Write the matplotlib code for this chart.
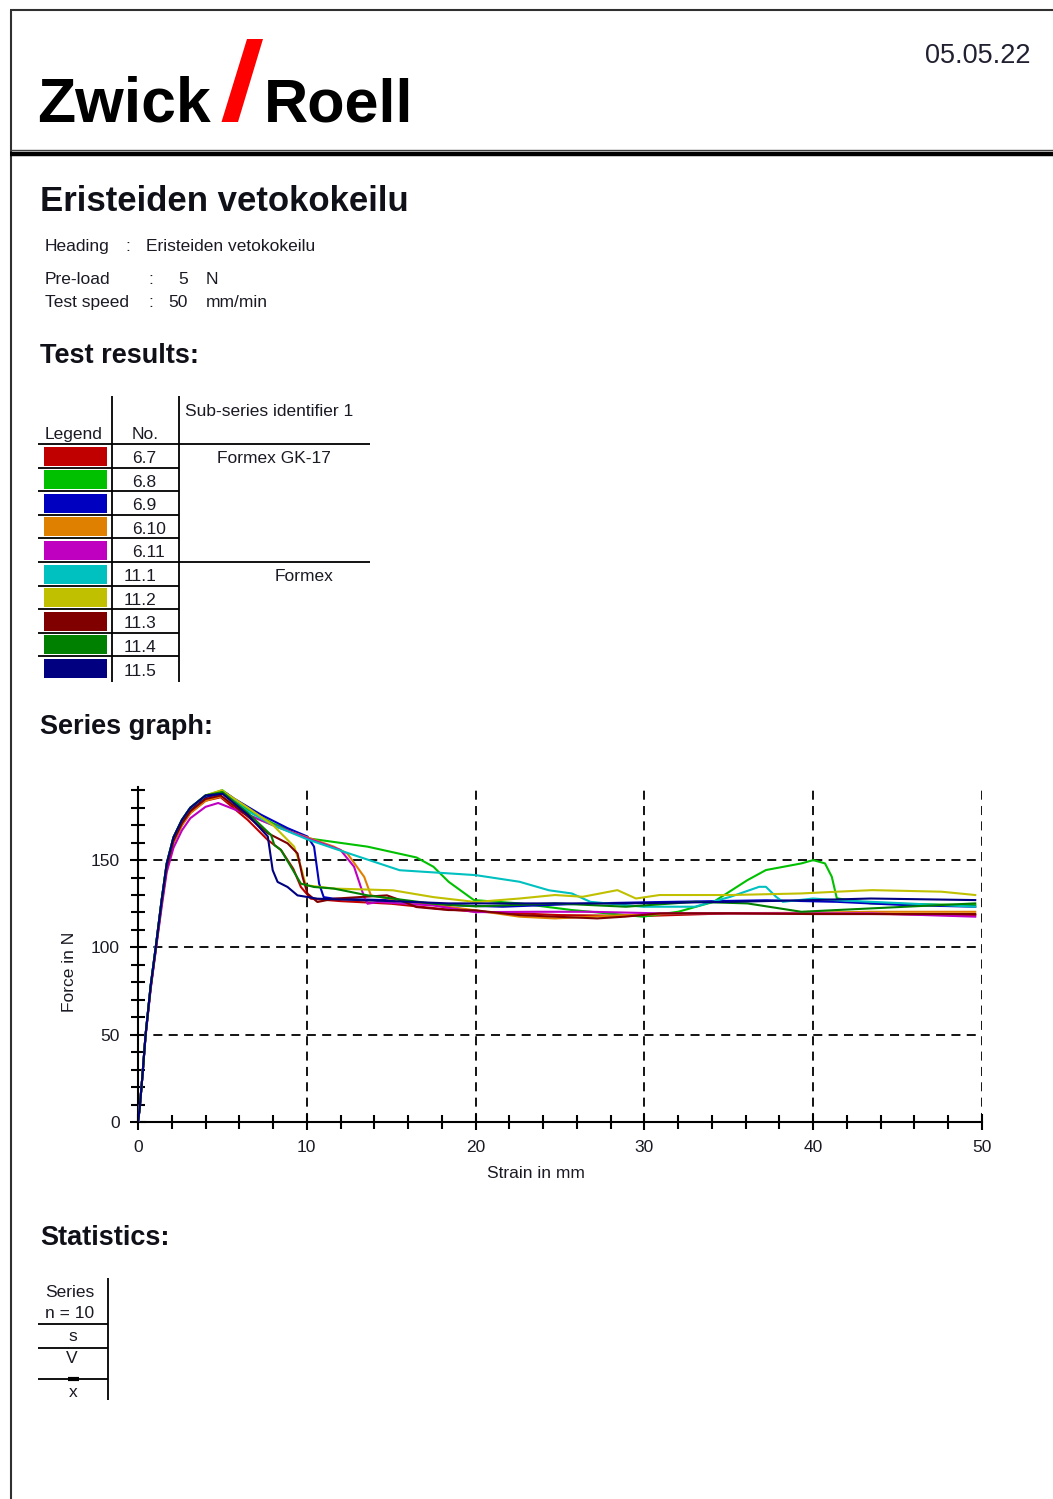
import matplotlib
matplotlib.use("Agg")
import matplotlib.pyplot as plt
from matplotlib.lines import Line2D
from matplotlib.patches import Rectangle, Polygon
from matplotlib.ticker import MultipleLocator

plt.rcParams['font.family'] = ['Liberation Sans', 'DejaVu Sans']

W, H = 1053, 1499
TXT = '#1a1a24'
FS = 12.5

# ---------------- data ----------------
specimen_ids = ["6.7", "6.8", "6.9", "6.10", "6.11", "11.1", "11.2", "11.3", "11.4", "11.5"]
series_colors = ["#C00000", "#00C000", "#0000C0", "#E08000", "#C000C0",
                 "#00C0C0", "#C0C000", "#800000", "#008000", "#000080"]
group_labels = ["Formex GK-17", "Formex"]

x_6_7 = [0, 0.1, 0.25, 0.45, 0.75, 1.05, 1.4, 1.7, 2.1, 2.6, 3.1, 4.0, 4.9, 6.5, 7.69, 8.47, 9.2, 9.65, 10.24, 12, 15, 18, 20, 25, 30, 35, 40, 45, 49.6]
y_6_7 = [0, 8, 25, 50, 77, 99, 125, 145, 160, 170, 177, 184, 186, 173, 161.5, 155.8, 145, 134.6, 127.9, 126.5, 125, 122, 120.5, 118.5, 118, 119.5, 119.5, 119, 118.5]

x_6_8 = [0, 0.1, 0.25, 0.45, 0.75, 1.05, 1.4, 1.7, 2.1, 2.6, 3.1, 4.0, 5.0, 6.5, 8, 10.04, 13.6, 16.5, 17.5, 18.4, 19.9, 22.6, 25.7, 29.9, 32, 34.1, 36.1, 37.2, 39.3, 40, 40.7, 41.1, 41.4, 43.4, 49.6]
y_6_8 = [0, 8, 25, 50, 78, 100, 127, 148, 163, 173, 180, 187, 190, 179, 171, 162.5, 157.7, 151.5, 146.2, 137.6, 127.1, 125.2, 121.4, 117.6, 120.4, 126.1, 138.5, 144.3, 148.1, 150, 148.1, 140.5, 128.1, 125.2, 124.2]

x_6_9 = [0, 0.1, 0.25, 0.45, 0.75, 1.05, 1.4, 1.7, 2.1, 2.6, 3.1, 4.0, 5.2, 5.73, 7.29, 8.86, 10.04, 10.43, 10.73, 11.0, 11.6, 15, 18.4, 21.6, 26.8, 31, 37.2, 41.4, 45.5, 49.6]
y_6_9 = [0, 8, 25, 50, 78, 100, 127, 147, 162, 172, 179, 186, 188.5, 185, 176, 168.3, 163.5, 157.7, 136.5, 128.8, 127.9, 127, 124.2, 123.3, 125.2, 126, 127, 126.1, 124.2, 123.3]

x_6_10 = [0, 0.1, 0.25, 0.45, 0.75, 1.05, 1.4, 1.7, 2.1, 2.6, 3.1, 4.0, 4.9, 6.5, 8.5, 10.04, 11.6, 12.4, 13.4, 13.8, 15.5, 20, 22.6, 24.7, 28.9, 33, 39.3, 43.4, 49.6]
y_6_10 = [0, 8, 25, 50, 77, 99, 125, 145, 160, 170, 177, 184, 186.5, 176, 168, 163, 157.7, 153.8, 140.4, 129.8, 126.9, 121.2, 117.6, 116.6, 118.5, 119.5, 119.8, 120.4, 120.4]

x_6_11 = [0, 0.1, 0.25, 0.45, 0.75, 1.05, 1.4, 1.7, 2.1, 2.6, 3.1, 4.0, 4.75, 6.0, 7.69, 10.04, 12, 12.8, 13.4, 13.6, 14.2, 17.5, 20, 23.6, 26.8, 30.9, 39.3, 43.4, 49.6]
y_6_11 = [0, 8, 25, 49, 76, 98, 123, 143, 157, 167, 174, 180.5, 182.7, 178, 171.2, 162.5, 155.8, 146.2, 128.8, 125, 126, 124, 120.2, 120.4, 120.4, 119.5, 119.5, 119.5, 117.6]

x_11_1 = [0, 0.1, 0.25, 0.45, 0.75, 1.05, 1.4, 1.7, 2.1, 2.6, 3.1, 4.0, 5.0, 6.5, 8, 10, 11.6, 15.5, 18.4, 20, 22.6, 24.35, 25.7, 26.8, 29.9, 33, 35.1, 36.8, 37.2, 37.8, 38.2, 40, 41.4, 45.5, 49.6]
y_11_1 = [0, 8, 25, 50, 78, 100, 127, 148, 163, 173, 180, 187, 189, 178, 170, 162, 156.7, 144.2, 142.4, 141.4, 137.6, 132.7, 130.9, 126.1, 123.3, 123.3, 129, 134.7, 134.7, 129, 126.1, 128, 127, 125.2, 123.3]

x_11_2 = [0, 0.1, 0.25, 0.45, 0.75, 1.05, 1.4, 1.7, 2.1, 2.6, 3.1, 4.0, 4.95, 6.5, 8, 9.25, 9.65, 9.94, 11.6, 15.1, 17.5, 20, 22.6, 24.7, 26.35, 28.4, 29.5, 30.9, 35.1, 39.3, 41.4, 43.5, 47.6, 49.6]
y_11_2 = [0, 8, 25, 50, 78, 100, 127, 148, 163, 173, 180, 187, 190, 180, 170, 157.7, 146.2, 135.6, 133.7, 132.7, 128.8, 126, 128, 130, 129, 132.8, 128, 130, 130, 130.9, 131.9, 132.8, 131.9, 130]

x_11_3 = [0, 0.1, 0.25, 0.45, 0.75, 1.05, 1.4, 1.7, 2.1, 2.6, 3.1, 4.0, 4.9, 6.5, 7.69, 8.86, 9.45, 9.75, 10.04, 10.63, 11.6, 14.75, 15.3, 16.5, 18.4, 20, 22.6, 24.7, 27.2, 28.85, 30.9, 35.1, 40, 43.4, 49.6]
y_11_3 = [0, 8, 25, 50, 77, 99, 126, 146, 161, 171, 178, 185, 187, 175, 165.4, 159.6, 153.8, 140.4, 130.8, 126, 127.9, 129.8, 127.9, 123.1, 121.4, 121.2, 118.5, 117.6, 116.6, 117.6, 119.5, 119.5, 119.1, 119.1, 119.1]

x_11_4 = [0, 0.1, 0.25, 0.45, 0.75, 1.05, 1.4, 1.7, 2.1, 2.6, 3.1, 4.0, 5.0, 6.5, 7.88, 8.08, 8.47, 9.06, 9.65, 10.43, 11.6, 13.6, 17.5, 20, 24.7, 28.9, 33, 36.1, 39.3, 41.4, 45.5, 49.6]
y_11_4 = [0, 8, 25, 50, 78, 100, 127, 148, 163, 173, 180, 187, 189, 177, 164.4, 158.6, 155.8, 146.2, 136.5, 134.6, 133.7, 129.8, 125, 123.5, 125.2, 123.3, 126.1, 125.2, 120.4, 121.4, 123.3, 125.2]

x_11_5 = [0, 0.1, 0.25, 0.45, 0.75, 1.05, 1.4, 1.7, 2.1, 2.6, 3.1, 4.0, 5.0, 6.5, 7.69, 7.98, 8.27, 8.86, 9.45, 10.63, 15, 18.4, 22.6, 28.9, 35.1, 40, 43.4, 49.6]
y_11_5 = [0, 8, 25, 50, 78, 100, 127, 148, 163, 173, 180, 187, 188, 176, 163.5, 144.2, 137.5, 134.6, 129.8, 127.9, 126.5, 125.2, 125.2, 125.2, 126.1, 127.1, 128, 127.1]

series_x = [x_6_7, x_6_8, x_6_9, x_6_10, x_6_11, x_11_1, x_11_2, x_11_3, x_11_4, x_11_5]
series_y = [y_6_7, y_6_8, y_6_9, y_6_10, y_6_11, y_11_1, y_11_2, y_11_3, y_11_4, y_11_5]

x_major = [0, 10, 20, 30, 40, 50]
y_major = [0, 50, 100, 150]

# ---------------- figure ----------------
fig = plt.figure(figsize=(W / 100, H / 100), dpi=100)


def fx(x):
    return x / W


def fy(y):
    return 1 - y / H


def text(x, y, s, **kw):
    kw.setdefault('color', TXT)
    kw.setdefault('va', 'baseline')
    fig.text(fx(x), fy(y), s, **kw)


def hline(y, x0, x1, lw=1.3, color='black'):
    fig.add_artist(Line2D([fx(x0), fx(x1)], [fy(y), fy(y)], transform=fig.transFigure,
                          color=color, lw=lw, solid_capstyle='butt'))


def vline(x, y0, y1, lw=1.3, color='black'):
    fig.add_artist(Line2D([fx(x), fx(x)], [fy(y0), fy(y1)], transform=fig.transFigure,
                          color=color, lw=lw, solid_capstyle='butt'))


# page frame
hline(9.5, 10, W, lw=1.5, color='#303030')
vline(10.5, 9.5, H, lw=1.5, color='#303030')
hline(149.5, 10, W, lw=1.0, color='#404040')
hline(153.5, 10, W, lw=3.2, color='black')

# logo
text(37, 122, "Zwick", fontsize=45, fontweight='bold', color='black')
text(264, 122, "Roell", fontsize=44, fontweight='bold', color='black')
fig.add_artist(Polygon([(fx(221.5), fy(122)), (fx(238), fy(122)), (fx(263), fy(39)), (fx(247), fy(39))],
                       closed=True, transform=fig.transFigure, facecolor='#FF0000', edgecolor='none'))
text(1030, 63, "05.05.22", fontsize=19.5, ha='right', color='#202030')

# title and info
text(40, 211, "Eristeiden vetokokeilu", fontsize=25, fontweight='bold', color='#101018')
text(45, 251, "Heading", fontsize=FS)
text(125, 251, ":", fontsize=FS)
text(146, 251, "Eristeiden vetokokeilu", fontsize=FS)
text(45, 284, "Pre-load", fontsize=FS)
text(148, 284, ":", fontsize=FS)
text(188, 284, "5", fontsize=FS, ha='right')
text(206, 284, "N", fontsize=FS)
text(45, 307, "Test speed", fontsize=FS)
text(148, 307, ":", fontsize=FS)
text(188, 307, "50", fontsize=FS, ha='right')
text(206, 307, "mm/min", fontsize=FS)

text(40, 363, "Test results:", fontsize=19.5, fontweight='bold', color='#101018')
text(40, 734, "Series graph:", fontsize=19.5, fontweight='bold', color='#101018')
text(40, 1245, "Statistics:", fontsize=19.5, fontweight='bold', color='#101018')

# results table
row_top = 444.0
row_h = 23.6
vline(112, 396, 682)
vline(179, 396, 682)
hline(row_top, 38, 370)
text(45, 439, "Legend", fontsize=FS)
text(145, 439, "No.", fontsize=FS, ha='center')
text(185, 416, "Sub-series identifier 1", fontsize=FS)
for i, (sid, col) in enumerate(zip(specimen_ids, series_colors)):
    top = row_top + i * row_h
    bot = top + row_h
    fig.add_artist(Rectangle((fx(44), fy(bot - 2)), fx(107) - fx(44), fy(top + 2.5) - fy(bot - 2),
                             transform=fig.transFigure, facecolor=col, edgecolor='none'))
    xnum = 132 if sid.startswith("6") else 124
    text(xnum, bot - 4.5, sid, fontsize=FS)
    if i < len(specimen_ids) - 1:
        if i == 4:
            hline(bot, 38, 370)
        else:
            hline(bot, 38, 179)
text(274, 463, group_labels[0], fontsize=FS, ha='center')
text(304, 581, group_labels[1], fontsize=FS, ha='center')

# statistics table
vline(108.5, 1278, 1400)
hline(1323.5, 38, 108.5)
hline(1347.5, 38, 108.5)
hline(1378.5, 38, 108.5)
hline(1378.5, 68, 79, lw=3)
text(70, 1297, "Series", fontsize=FS, ha='center')
text(70, 1318, "n = 10", fontsize=FS, ha='center')
text(73, 1341, "s", fontsize=FS, ha='center')
text(72, 1363, "V", fontsize=FS, ha='center')
text(73, 1397, "x", fontsize=FS, ha='center')

# ---------------- graph ----------------
ymax = 192
ax_left, ax_right, ax_bottom = 138, 982, 1122
ax_top = ax_bottom - ymax * 1.746
ax = fig.add_axes([fx(ax_left), fy(ax_bottom), fx(ax_right) - fx(ax_left), fy(ax_top) - fy(ax_bottom)])
ax.set_xlim(0, 50)
ax.set_ylim(0, ymax)
ax.patch.set_alpha(0)
for s in ['top', 'right']:
    ax.spines[s].set_visible(False)
for s in ['left', 'bottom']:
    ax.spines[s].set_linewidth(1.5)
    ax.spines[s].set_color('black')
    ax.spines[s].set_zorder(1)
ax.spines['left'].set_bounds(0, ymax)

for xv in x_major[1:]:
    ax.plot([xv, xv], [0, 190], color='black', lw=1.3, ls=(0, (5, 3.5)), zorder=1)
for yv in y_major[1:]:
    ax.plot([0, 50], [yv, yv], color='black', lw=1.3, ls=(0, (5, 3.5)), zorder=1)

for xs, ys, col in zip(series_x, series_y, series_colors):
    ax.plot(xs, ys, color=col, lw=1.5, zorder=3, solid_joinstyle='round')

ax.xaxis.set_major_locator(MultipleLocator(10))
ax.xaxis.set_minor_locator(MultipleLocator(2))
ax.yaxis.set_major_locator(MultipleLocator(50))
ax.yaxis.set_minor_locator(MultipleLocator(10))
ax.set_xticks(x_major)
ax.set_yticks(y_major)
ax.set_xticklabels([str(v) for v in x_major])
ax.set_yticklabels([str(v) for v in y_major])
ax.tick_params(which='major', direction='inout', length=12, width=1.5, color='black',
               labelsize=12.5, labelcolor=TXT)
ax.tick_params(which='minor', direction='inout', length=9.5, width=1.5, color='black')
ax.tick_params(axis='y', which='major', pad=7)
ax.tick_params(axis='x', which='major', pad=7)

text(536, 1178, "Strain in mm", fontsize=FS, ha='center')
fig.text(fx(70), fy(972), "Force in N", fontsize=FS, rotation=90, ha='center', va='center', color=TXT)

fig.savefig("out.png", dpi=100)
